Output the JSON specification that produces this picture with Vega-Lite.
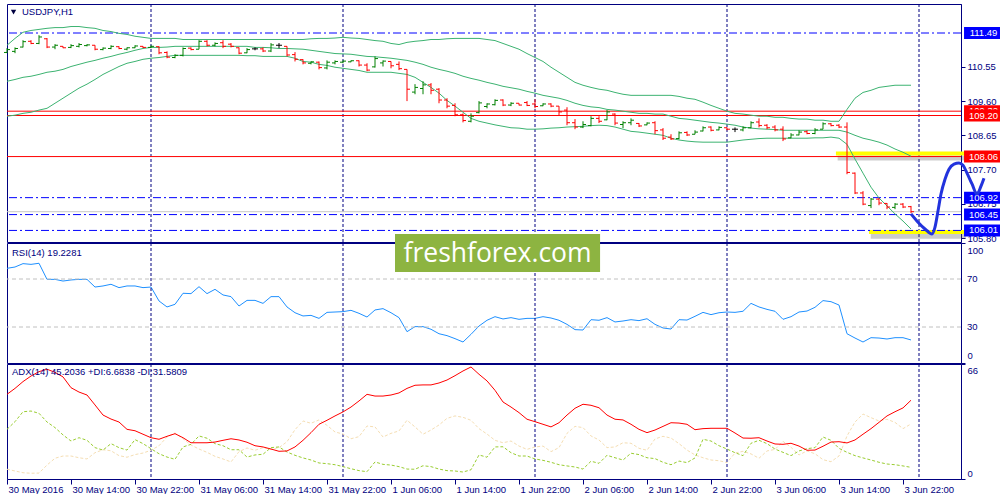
{
"$schema":"https://vega.github.io/schema/vega-lite/v6.json",
"padding":{"left":3,"top":3,"right":0,"bottom":0},
"autosize":{"type":"pad"},
"background":"white",
"bounds":"flush",
"spacing":1,
"datasets":{
"bars":[
{"t":"2016-05-30T06:00","o":110.95,"h":111.07,"l":110.93,"c":111.03,"bu":111.15,"bm":110.15,"bl":109.18,"rsi":78.9,"adx":48.6,"pdi":28.5,"mdi":5.6},
{"t":"2016-05-30T07:00","o":110.98,"h":111.09,"l":110.93,"c":111.06,"bu":111.34,"bm":110.20,"bl":109.21,"rsi":80.0,"adx":52.0,"pdi":32.9,"mdi":4.6},
{"t":"2016-05-30T08:00","o":111.10,"h":111.29,"l":111.09,"c":111.25,"bu":111.51,"bm":110.26,"bl":109.26,"rsi":82.8,"adx":55.9,"pdi":38.6,"mdi":3.6},
{"t":"2016-05-30T09:00","o":111.26,"h":111.29,"l":111.18,"c":111.20,"bu":111.56,"bm":110.29,"bl":109.29,"rsi":82.2,"adx":59.1,"pdi":39.0,"mdi":3.3},
{"t":"2016-05-30T10:00","o":111.20,"h":111.43,"l":111.18,"c":111.38,"bu":111.59,"bm":110.34,"bl":109.35,"rsi":83.1,"adx":61.6,"pdi":37.7,"mdi":3.4},
{"t":"2016-05-30T11:00","o":111.33,"h":111.35,"l":111.07,"c":111.10,"bu":111.62,"bm":110.40,"bl":109.40,"rsi":69.7,"adx":63.0,"pdi":32.7,"mdi":8.0},
{"t":"2016-05-30T12:00","o":111.10,"h":111.18,"l":111.04,"c":111.15,"bu":111.64,"bm":110.43,"bl":109.54,"rsi":69.7,"adx":61.2,"pdi":29.5,"mdi":11.9},
{"t":"2016-05-30T13:00","o":111.12,"h":111.12,"l":111.07,"c":111.08,"bu":111.64,"bm":110.48,"bl":109.68,"rsi":68.3,"adx":58.6,"pdi":25.3,"mdi":13.2},
{"t":"2016-05-30T14:00","o":111.09,"h":111.18,"l":111.07,"c":111.14,"bu":111.67,"bm":110.56,"bl":109.82,"rsi":69.2,"adx":52.4,"pdi":21.8,"mdi":13.2},
{"t":"2016-05-30T15:00","o":111.12,"h":111.21,"l":111.09,"c":111.17,"bu":111.67,"bm":110.62,"bl":109.96,"rsi":69.7,"adx":49.9,"pdi":23.7,"mdi":12.2},
{"t":"2016-05-30T16:00","o":111.14,"h":111.18,"l":111.12,"c":111.16,"bu":111.64,"bm":110.68,"bl":110.07,"rsi":69.7,"adx":48.2,"pdi":22.2,"mdi":11.5},
{"t":"2016-05-30T17:00","o":111.15,"h":111.15,"l":111.01,"c":111.04,"bu":111.62,"bm":110.73,"bl":110.20,"rsi":63.3,"adx":42.5,"pdi":18.0,"mdi":15.1},
{"t":"2016-05-30T18:00","o":111.03,"h":111.09,"l":111.01,"c":111.07,"bu":111.56,"bm":110.79,"bl":110.34,"rsi":64.2,"adx":36.7,"pdi":16.6,"mdi":16.8},
{"t":"2016-05-30T19:00","o":111.06,"h":111.15,"l":111.04,"c":111.12,"bu":111.53,"bm":110.84,"bl":110.45,"rsi":65.6,"adx":34.4,"pdi":20.3,"mdi":16.2},
{"t":"2016-05-30T20:00","o":111.11,"h":111.12,"l":111.04,"c":111.06,"bu":111.48,"bm":110.90,"bl":110.56,"rsi":62.8,"adx":32.7,"pdi":18.0,"mdi":13.4},
{"t":"2016-05-30T21:00","o":111.04,"h":111.09,"l":111.01,"c":111.08,"bu":111.45,"bm":110.95,"bl":110.65,"rsi":64.2,"adx":28.5,"pdi":16.6,"mdi":12.5},
{"t":"2016-05-30T22:00","o":111.08,"h":111.15,"l":111.07,"c":111.13,"bu":111.40,"bm":111.01,"bl":110.70,"rsi":64.2,"adx":27.7,"pdi":22.6,"mdi":14.0},
{"t":"2016-05-30T23:00","o":111.12,"h":111.12,"l":111.07,"c":111.09,"bu":111.37,"bm":111.06,"bl":110.76,"rsi":62.8,"adx":25.7,"pdi":20.3,"mdi":14.9},
{"t":"2016-05-31T00:00","o":111.09,"h":111.15,"l":111.07,"c":111.12,"bu":111.34,"bm":111.09,"bl":110.79,"rsi":63.3,"adx":23.7,"pdi":17.4,"mdi":16.5},
{"t":"2016-05-31T01:00","o":111.11,"h":111.12,"l":110.90,"c":110.94,"bu":111.34,"bm":111.09,"bl":110.81,"rsi":51.7,"adx":22.8,"pdi":14.5,"mdi":19.1},
{"t":"2016-05-31T02:00","o":110.95,"h":110.98,"l":110.79,"c":110.82,"bu":111.34,"bm":111.10,"bl":110.84,"rsi":46.7,"adx":24.5,"pdi":12.6,"mdi":24.1},
{"t":"2016-05-31T03:00","o":110.81,"h":110.90,"l":110.79,"c":110.87,"bu":111.34,"bm":111.12,"bl":110.87,"rsi":48.9,"adx":26.0,"pdi":11.3,"mdi":26.4},
{"t":"2016-05-31T04:00","o":110.87,"h":111.09,"l":110.84,"c":111.06,"bu":111.31,"bm":111.12,"bl":110.87,"rsi":58.1,"adx":23.7,"pdi":18.4,"mdi":23.1},
{"t":"2016-05-31T05:00","o":111.07,"h":111.09,"l":111.01,"c":111.03,"bu":111.31,"bm":111.12,"bl":110.87,"rsi":57.8,"adx":20.8,"pdi":19.9,"mdi":19.5},
{"t":"2016-05-31T06:00","o":111.04,"h":111.29,"l":111.04,"c":111.26,"bu":111.31,"bm":111.12,"bl":110.87,"rsi":63.6,"adx":20.8,"pdi":24.7,"mdi":17.2},
{"t":"2016-05-31T07:00","o":111.26,"h":111.29,"l":111.12,"c":111.15,"bu":111.31,"bm":111.12,"bl":110.87,"rsi":57.8,"adx":20.8,"pdi":23.4,"mdi":15.3},
{"t":"2016-05-31T08:00","o":111.15,"h":111.23,"l":111.12,"c":111.20,"bu":111.31,"bm":111.12,"bl":110.87,"rsi":61.4,"adx":21.2,"pdi":20.3,"mdi":13.0},
{"t":"2016-05-31T09:00","o":111.22,"h":111.29,"l":111.07,"c":111.12,"bu":111.31,"bm":111.12,"bl":110.87,"rsi":56.7,"adx":22.2,"pdi":19.1,"mdi":11.5},
{"t":"2016-05-31T10:00","o":111.18,"h":111.21,"l":111.09,"c":111.12,"bu":111.31,"bm":111.12,"bl":110.87,"rsi":55.3,"adx":23.1,"pdi":16.8,"mdi":9.8},
{"t":"2016-05-31T11:00","o":111.08,"h":111.09,"l":110.90,"c":110.93,"bu":111.31,"bm":111.12,"bl":110.87,"rsi":47.5,"adx":22.4,"pdi":16.8,"mdi":15.7},
{"t":"2016-05-31T12:00","o":110.94,"h":111.07,"l":110.93,"c":111.03,"bu":111.31,"bm":111.12,"bl":110.86,"rsi":52.2,"adx":21.1,"pdi":12.6,"mdi":17.8},
{"t":"2016-05-31T13:00","o":111.05,"h":111.09,"l":111.01,"c":111.05,"bu":111.31,"bm":111.09,"bl":110.86,"rsi":52.2,"adx":19.1,"pdi":13.8,"mdi":16.5},
{"t":"2016-05-31T14:00","o":111.05,"h":111.09,"l":110.96,"c":110.99,"bu":111.31,"bm":111.09,"bl":110.84,"rsi":49.7,"adx":18.4,"pdi":14.2,"mdi":18.0},
{"t":"2016-05-31T15:00","o":110.99,"h":111.21,"l":110.96,"c":111.16,"bu":111.31,"bm":111.08,"bl":110.84,"rsi":55.3,"adx":17.2,"pdi":18.0,"mdi":17.0},
{"t":"2016-05-31T16:00","o":111.15,"h":111.21,"l":111.07,"c":111.15,"bu":111.31,"bm":111.06,"bl":110.84,"rsi":55.3,"adx":15.9,"pdi":18.4,"mdi":18.0},
{"t":"2016-05-31T17:00","o":111.12,"h":111.12,"l":110.84,"c":110.88,"bu":111.31,"bm":111.06,"bl":110.84,"rsi":46.7,"adx":16.1,"pdi":15.5,"mdi":21.4},
{"t":"2016-05-31T18:00","o":110.89,"h":110.96,"l":110.70,"c":110.76,"bu":111.31,"bm":111.05,"bl":110.79,"rsi":41.9,"adx":18.4,"pdi":13.6,"mdi":28.3},
{"t":"2016-05-31T19:00","o":110.75,"h":110.76,"l":110.62,"c":110.66,"bu":111.31,"bm":111.04,"bl":110.70,"rsi":39.2,"adx":22.2,"pdi":12.1,"mdi":33.3},
{"t":"2016-05-31T20:00","o":110.65,"h":110.70,"l":110.62,"c":110.69,"bu":111.33,"bm":111.01,"bl":110.68,"rsi":39.7,"adx":26.6,"pdi":10.9,"mdi":32.0},
{"t":"2016-05-31T21:00","o":110.68,"h":110.70,"l":110.48,"c":110.53,"bu":111.34,"bm":110.98,"bl":110.62,"rsi":37.2,"adx":31.4,"pdi":9.2,"mdi":33.9},
{"t":"2016-05-31T22:00","o":110.52,"h":110.73,"l":110.48,"c":110.68,"bu":111.34,"bm":110.95,"bl":110.59,"rsi":42.2,"adx":33.7,"pdi":8.8,"mdi":30.8},
{"t":"2016-05-31T23:00","o":110.66,"h":110.73,"l":110.62,"c":110.70,"bu":111.35,"bm":110.92,"bl":110.54,"rsi":42.5,"adx":36.2,"pdi":8.2,"mdi":27.0},
{"t":"2016-06-01T00:00","o":110.68,"h":110.73,"l":110.65,"c":110.71,"bu":111.37,"bm":110.91,"bl":110.51,"rsi":42.8,"adx":38.5,"pdi":7.1,"mdi":25.8},
{"t":"2016-06-01T01:00","o":110.69,"h":110.73,"l":110.68,"c":110.72,"bu":111.35,"bm":110.90,"bl":110.48,"rsi":43.9,"adx":41.3,"pdi":5.9,"mdi":23.1},
{"t":"2016-06-01T02:00","o":110.72,"h":110.73,"l":110.56,"c":110.60,"bu":111.34,"bm":110.87,"bl":110.45,"rsi":41.4,"adx":44.8,"pdi":4.8,"mdi":24.3},
{"t":"2016-06-01T03:00","o":110.60,"h":110.65,"l":110.43,"c":110.46,"bu":111.31,"bm":110.84,"bl":110.40,"rsi":38.3,"adx":48.6,"pdi":4.2,"mdi":30.4},
{"t":"2016-06-01T04:00","o":110.55,"h":110.84,"l":110.53,"c":110.78,"bu":111.28,"bm":110.83,"bl":110.40,"rsi":44.2,"adx":47.6,"pdi":9.8,"mdi":29.9},
{"t":"2016-06-01T05:00","o":110.66,"h":110.73,"l":110.56,"c":110.71,"bu":111.26,"bm":110.81,"bl":110.40,"rsi":45.3,"adx":47.6,"pdi":8.4,"mdi":24.1},
{"t":"2016-06-01T06:00","o":110.70,"h":110.70,"l":110.51,"c":110.58,"bu":111.20,"bm":110.79,"bl":110.40,"rsi":41.9,"adx":48.2,"pdi":8.0,"mdi":26.2},
{"t":"2016-06-01T07:00","o":110.62,"h":110.70,"l":110.46,"c":110.50,"bu":111.17,"bm":110.76,"bl":110.37,"rsi":37.8,"adx":49.4,"pdi":7.1,"mdi":27.6},
{"t":"2016-06-01T08:00","o":110.48,"h":110.48,"l":109.60,"c":109.93,"bu":111.23,"bm":110.73,"bl":110.34,"rsi":26.1,"adx":52.0,"pdi":5.7,"mdi":33.7},
{"t":"2016-06-01T09:00","o":109.85,"h":110.07,"l":109.79,"c":109.98,"bu":111.26,"bm":110.68,"bl":110.26,"rsi":30.3,"adx":53.8,"pdi":5.6,"mdi":29.9},
{"t":"2016-06-01T10:00","o":109.95,"h":110.15,"l":109.79,"c":110.05,"bu":111.28,"bm":110.62,"bl":110.12,"rsi":30.3,"adx":54.0,"pdi":7.6,"mdi":25.7},
{"t":"2016-06-01T11:00","o":110.05,"h":110.10,"l":109.79,"c":109.90,"bu":111.31,"bm":110.54,"bl":109.98,"rsi":28.1,"adx":54.0,"pdi":7.1,"mdi":28.1},
{"t":"2016-06-01T12:00","o":109.93,"h":109.96,"l":109.54,"c":109.63,"bu":111.31,"bm":110.48,"bl":109.82,"rsi":24.4,"adx":55.1,"pdi":5.7,"mdi":31.0},
{"t":"2016-06-01T13:00","o":109.63,"h":109.68,"l":109.40,"c":109.46,"bu":111.33,"bm":110.43,"bl":109.62,"rsi":22.8,"adx":56.8,"pdi":4.8,"mdi":34.8},
{"t":"2016-06-01T14:00","o":109.48,"h":109.54,"l":109.18,"c":109.22,"bu":111.34,"bm":110.37,"bl":109.46,"rsi":20.3,"adx":59.3,"pdi":4.6,"mdi":36.2},
{"t":"2016-06-01T15:00","o":109.22,"h":109.26,"l":109.01,"c":109.06,"bu":111.34,"bm":110.29,"bl":109.29,"rsi":17.5,"adx":62.0,"pdi":4.0,"mdi":35.4},
{"t":"2016-06-01T16:00","o":109.04,"h":109.26,"l":109.01,"c":109.18,"bu":111.34,"bm":110.23,"bl":109.12,"rsi":23.9,"adx":64.3,"pdi":5.3,"mdi":33.7},
{"t":"2016-06-01T17:00","o":109.28,"h":109.60,"l":109.26,"c":109.55,"bu":111.34,"bm":110.18,"bl":109.04,"rsi":30.8,"adx":60.1,"pdi":13.8,"mdi":28.9},
{"t":"2016-06-01T18:00","o":109.45,"h":109.54,"l":109.40,"c":109.52,"bu":111.31,"bm":110.12,"bl":108.99,"rsi":35.6,"adx":56.3,"pdi":12.5,"mdi":25.8},
{"t":"2016-06-01T19:00","o":109.50,"h":109.65,"l":109.48,"c":109.62,"bu":111.28,"bm":110.07,"bl":108.94,"rsi":38.6,"adx":50.9,"pdi":18.4,"mdi":22.2},
{"t":"2016-06-01T20:00","o":109.63,"h":109.65,"l":109.46,"c":109.49,"bu":111.20,"bm":110.01,"bl":108.90,"rsi":36.7,"adx":44.2,"pdi":18.5,"mdi":20.8},
{"t":"2016-06-01T21:00","o":109.49,"h":109.57,"l":109.46,"c":109.54,"bu":111.12,"bm":109.97,"bl":108.86,"rsi":37.8,"adx":41.3,"pdi":15.1,"mdi":21.8},
{"t":"2016-06-01T22:00","o":109.54,"h":109.54,"l":109.48,"c":109.49,"bu":111.04,"bm":109.93,"bl":108.85,"rsi":36.4,"adx":38.1,"pdi":13.2,"mdi":18.9},
{"t":"2016-06-01T23:00","o":109.56,"h":109.60,"l":109.46,"c":109.48,"bu":110.92,"bm":109.87,"bl":108.82,"rsi":37.2,"adx":34.3,"pdi":13.2,"mdi":17.0},
{"t":"2016-06-02T00:00","o":109.52,"h":109.65,"l":109.40,"c":109.45,"bu":110.81,"bm":109.82,"bl":108.82,"rsi":37.2,"adx":32.9,"pdi":11.5,"mdi":18.4},
{"t":"2016-06-02T01:00","o":109.47,"h":109.54,"l":109.46,"c":109.52,"bu":110.70,"bm":109.76,"bl":108.83,"rsi":38.6,"adx":31.4,"pdi":10.7,"mdi":18.9},
{"t":"2016-06-02T02:00","o":109.52,"h":109.54,"l":109.43,"c":109.46,"bu":110.54,"bm":109.72,"bl":108.85,"rsi":37.5,"adx":29.9,"pdi":9.6,"mdi":15.7},
{"t":"2016-06-02T03:00","o":109.46,"h":109.46,"l":109.21,"c":109.30,"bu":110.40,"bm":109.68,"bl":108.86,"rsi":35.6,"adx":32.3,"pdi":8.2,"mdi":18.0},
{"t":"2016-06-02T04:00","o":109.35,"h":109.43,"l":108.93,"c":109.00,"bu":110.26,"bm":109.62,"bl":108.88,"rsi":32.2,"adx":36.7,"pdi":7.5,"mdi":26.2},
{"t":"2016-06-02T05:00","o":109.00,"h":109.10,"l":108.82,"c":108.88,"bu":110.12,"bm":109.54,"bl":108.89,"rsi":27.8,"adx":40.6,"pdi":6.9,"mdi":30.2},
{"t":"2016-06-02T06:00","o":108.88,"h":109.04,"l":108.85,"c":108.95,"bu":110.04,"bm":109.48,"bl":108.90,"rsi":27.5,"adx":42.9,"pdi":5.7,"mdi":29.5},
{"t":"2016-06-02T07:00","o":108.92,"h":109.18,"l":108.90,"c":109.12,"bu":109.98,"bm":109.44,"bl":108.92,"rsi":36.1,"adx":42.3,"pdi":10.2,"mdi":24.7},
{"t":"2016-06-02T08:00","o":109.12,"h":109.18,"l":108.99,"c":109.04,"bu":109.93,"bm":109.42,"bl":108.93,"rsi":35.6,"adx":40.9,"pdi":9.0,"mdi":22.4},
{"t":"2016-06-02T09:00","o":109.08,"h":109.35,"l":109.07,"c":109.30,"bu":109.90,"bm":109.37,"bl":108.92,"rsi":37.8,"adx":36.7,"pdi":13.6,"mdi":18.0},
{"t":"2016-06-02T10:00","o":109.24,"h":109.26,"l":108.93,"c":108.99,"bu":109.84,"bm":109.35,"bl":108.88,"rsi":34.2,"adx":34.3,"pdi":12.2,"mdi":18.4},
{"t":"2016-06-02T11:00","o":108.95,"h":109.04,"l":108.85,"c":109.00,"bu":109.79,"bm":109.32,"bl":108.82,"rsi":35.0,"adx":33.9,"pdi":10.9,"mdi":20.8},
{"t":"2016-06-02T12:00","o":109.00,"h":109.12,"l":108.93,"c":109.07,"bu":109.76,"bm":109.29,"bl":108.76,"rsi":36.1,"adx":31.4,"pdi":14.8,"mdi":20.5},
{"t":"2016-06-02T13:00","o":108.98,"h":108.99,"l":108.88,"c":108.91,"bu":109.76,"bm":109.26,"bl":108.74,"rsi":35.3,"adx":28.5,"pdi":14.0,"mdi":17.6},
{"t":"2016-06-02T14:00","o":108.94,"h":109.01,"l":108.93,"c":108.99,"bu":109.76,"bm":109.26,"bl":108.71,"rsi":36.9,"adx":26.6,"pdi":12.2,"mdi":16.5},
{"t":"2016-06-02T15:00","o":109.00,"h":109.04,"l":108.68,"c":108.78,"bu":109.76,"bm":109.24,"bl":108.68,"rsi":32.2,"adx":28.1,"pdi":11.7,"mdi":23.0},
{"t":"2016-06-02T16:00","o":108.80,"h":108.85,"l":108.52,"c":108.57,"bu":109.76,"bm":109.24,"bl":108.65,"rsi":29.2,"adx":30.2,"pdi":9.6,"mdi":24.5},
{"t":"2016-06-02T17:00","o":108.60,"h":108.68,"l":108.52,"c":108.55,"bu":109.76,"bm":109.18,"bl":108.57,"rsi":28.3,"adx":32.3,"pdi":8.2,"mdi":23.5},
{"t":"2016-06-02T18:00","o":108.56,"h":108.76,"l":108.54,"c":108.72,"bu":109.73,"bm":109.12,"bl":108.52,"rsi":36.1,"adx":32.1,"pdi":10.3,"mdi":20.3},
{"t":"2016-06-02T19:00","o":108.73,"h":108.76,"l":108.63,"c":108.66,"bu":109.68,"bm":109.10,"bl":108.49,"rsi":35.8,"adx":31.4,"pdi":9.4,"mdi":16.6},
{"t":"2016-06-02T20:00","o":108.68,"h":108.79,"l":108.68,"c":108.74,"bu":109.65,"bm":109.07,"bl":108.47,"rsi":38.9,"adx":28.3,"pdi":12.1,"mdi":13.8},
{"t":"2016-06-02T21:00","o":108.77,"h":108.90,"l":108.76,"c":108.86,"bu":109.57,"bm":109.04,"bl":108.46,"rsi":42.2,"adx":28.9,"pdi":22.8,"mdi":12.2},
{"t":"2016-06-02T22:00","o":108.88,"h":108.90,"l":108.76,"c":108.79,"bu":109.48,"bm":109.01,"bl":108.46,"rsi":40.3,"adx":29.1,"pdi":21.8,"mdi":10.9},
{"t":"2016-06-02T23:00","o":108.80,"h":108.90,"l":108.79,"c":108.87,"bu":109.40,"bm":108.99,"bl":108.46,"rsi":41.9,"adx":29.1,"pdi":19.1,"mdi":10.5},
{"t":"2016-06-03T00:00","o":108.86,"h":108.87,"l":108.79,"c":108.82,"bu":109.32,"bm":108.96,"bl":108.46,"rsi":42.5,"adx":29.1,"pdi":17.2,"mdi":9.4},
{"t":"2016-06-03T01:00","o":108.82,"h":108.87,"l":108.74,"c":108.82,"bu":109.26,"bm":108.93,"bl":108.49,"rsi":42.2,"adx":26.4,"pdi":15.1,"mdi":14.9},
{"t":"2016-06-03T02:00","o":108.80,"h":108.90,"l":108.76,"c":108.86,"bu":109.24,"bm":108.88,"bl":108.52,"rsi":43.1,"adx":23.5,"pdi":13.4,"mdi":15.9},
{"t":"2016-06-03T03:00","o":108.86,"h":109.04,"l":108.85,"c":109.00,"bu":109.21,"bm":108.85,"bl":108.54,"rsi":49.7,"adx":23.4,"pdi":20.5,"mdi":14.4},
{"t":"2016-06-03T04:00","o":109.02,"h":109.12,"l":108.87,"c":108.92,"bu":109.18,"bm":108.83,"bl":108.56,"rsi":46.7,"adx":23.7,"pdi":22.2,"mdi":11.9},
{"t":"2016-06-03T05:00","o":108.93,"h":108.96,"l":108.82,"c":108.86,"bu":109.18,"bm":108.82,"bl":108.57,"rsi":44.7,"adx":21.8,"pdi":20.3,"mdi":16.1},
{"t":"2016-06-03T06:00","o":108.88,"h":108.93,"l":108.76,"c":108.80,"bu":109.15,"bm":108.81,"bl":108.57,"rsi":43.1,"adx":20.1,"pdi":17.2,"mdi":17.0},
{"t":"2016-06-03T07:00","o":108.82,"h":108.90,"l":108.49,"c":108.55,"bu":109.15,"bm":108.79,"bl":108.57,"rsi":36.4,"adx":19.9,"pdi":15.3,"mdi":21.6},
{"t":"2016-06-03T08:00","o":108.58,"h":108.71,"l":108.57,"c":108.66,"bu":109.12,"bm":108.79,"bl":108.57,"rsi":38.6,"adx":20.5,"pdi":13.4,"mdi":18.2},
{"t":"2016-06-03T09:00","o":108.66,"h":108.79,"l":108.65,"c":108.74,"bu":109.10,"bm":108.79,"bl":108.57,"rsi":42.5,"adx":18.9,"pdi":16.1,"mdi":13.8},
{"t":"2016-06-03T10:00","o":108.75,"h":108.79,"l":108.68,"c":108.70,"bu":109.10,"bm":108.79,"bl":108.57,"rsi":43.3,"adx":16.5,"pdi":17.4,"mdi":16.1},
{"t":"2016-06-03T11:00","o":108.70,"h":108.85,"l":108.68,"c":108.80,"bu":109.07,"bm":108.79,"bl":108.58,"rsi":46.4,"adx":16.6,"pdi":18.0,"mdi":14.5},
{"t":"2016-06-03T12:00","o":108.82,"h":109.01,"l":108.82,"c":108.97,"bu":109.07,"bm":108.79,"bl":108.58,"rsi":52.0,"adx":18.8,"pdi":24.1,"mdi":11.1},
{"t":"2016-06-03T13:00","o":108.97,"h":108.99,"l":108.90,"c":108.92,"bu":109.04,"bm":108.79,"bl":108.60,"rsi":51.1,"adx":21.2,"pdi":22.2,"mdi":9.9},
{"t":"2016-06-03T14:00","o":108.93,"h":108.96,"l":108.85,"c":108.88,"bu":109.04,"bm":108.79,"bl":108.57,"rsi":48.3,"adx":21.4,"pdi":17.6,"mdi":13.2},
{"t":"2016-06-03T15:00","o":108.88,"h":109.01,"l":107.57,"c":107.62,"bu":109.37,"bm":108.74,"bl":108.40,"rsi":24.4,"adx":20.7,"pdi":15.3,"mdi":24.7},
{"t":"2016-06-03T16:00","o":107.60,"h":107.62,"l":107.02,"c":107.05,"bu":109.68,"bm":108.65,"bl":107.99,"rsi":20.8,"adx":22.4,"pdi":13.4,"mdi":32.7},
{"t":"2016-06-03T17:00","o":107.05,"h":107.10,"l":106.71,"c":106.74,"bu":109.84,"bm":108.57,"bl":107.60,"rsi":17.5,"adx":25.7,"pdi":12.1,"mdi":37.3},
{"t":"2016-06-03T18:00","o":106.70,"h":106.91,"l":106.63,"c":106.88,"bu":109.90,"bm":108.52,"bl":107.21,"rsi":21.1,"adx":28.9,"pdi":10.9,"mdi":35.2},
{"t":"2016-06-03T19:00","o":106.88,"h":106.91,"l":106.71,"c":106.77,"bu":109.98,"bm":108.46,"bl":106.91,"rsi":20.8,"adx":32.5,"pdi":9.6,"mdi":33.3},
{"t":"2016-06-03T20:00","o":106.76,"h":106.77,"l":106.60,"c":106.66,"bu":110.01,"bm":108.38,"bl":106.69,"rsi":20.0,"adx":36.2,"pdi":8.6,"mdi":34.3},
{"t":"2016-06-03T21:00","o":106.65,"h":106.77,"l":106.60,"c":106.74,"bu":110.04,"bm":108.27,"bl":106.47,"rsi":21.1,"adx":38.6,"pdi":8.2,"mdi":32.5},
{"t":"2016-06-03T22:00","o":106.74,"h":106.77,"l":106.63,"c":106.66,"bu":110.04,"bm":108.18,"bl":106.27,"rsi":21.1,"adx":40.8,"pdi":7.5,"mdi":28.9},
{"t":"2016-06-03T23:00","o":106.67,"h":106.69,"l":106.49,"c":106.53,"bu":110.04,"bm":108.07,"bl":106.05,"rsi":19.2,"adx":45.2,"pdi":6.7,"mdi":31.6}
],
"days":[{"t":"2016-05-31T00:00"},{"t":"2016-06-01T00:00"},{"t":"2016-06-02T00:00"},{"t":"2016-06-03T00:00"},{"t":"2016-06-04T00:00"}],
"redLevels":[{"p":109.32},{"p":109.20},{"p":108.06}],
"blueLevels":[{"p":111.49},{"p":106.92},{"p":106.45},{"p":106.01}],
"bid":[{"p":106.53}],
"zones":[{"t1":"2016-06-03T13:37","t2":"2016-06-04T05:52","p1":108.09,"p2":108.20},{"t1":"2016-06-03T17:45","t2":"2016-06-04T05:52","p1":105.91,"p2":106.02}],
"shadows":[{"t1":"2016-06-03T13:50","t2":"2016-06-04T05:52","p1":107.95,"p2":108.09},{"t1":"2016-06-03T17:58","t2":"2016-06-04T05:52","p1":105.78,"p2":105.91}],
"rsiLevels":[{"v":30},{"v":70}],
"sketch":[
{"t":"2016-06-03T23:00","p":106.47},{"t":"2016-06-03T23:52:30","p":106.24},{"t":"2016-06-04T00:45","p":106.05},{"t":"2016-06-04T01:37:30","p":105.91},{"t":"2016-06-04T02:00","p":106.10},{"t":"2016-06-04T02:22:30","p":106.55},{"t":"2016-06-04T02:45","p":107.02},{"t":"2016-06-04T03:15","p":107.43},{"t":"2016-06-04T03:45","p":107.71},{"t":"2016-06-04T04:22:30","p":107.85},{"t":"2016-06-04T05:00","p":107.88},{"t":"2016-06-04T05:30","p":107.82},{"t":"2016-06-04T06:00","p":107.60},{"t":"2016-06-04T06:37:30","p":107.30},{"t":"2016-06-04T07:15","p":107.02},{"t":"2016-06-04T07:45","p":107.24},{"t":"2016-06-04T08:07:30","p":107.46}
]
},
"vconcat":[
{
"width":954,"height":238,
"layer":[
{"data":{"name":"days"},"mark":{"type":"rule","color":"#000080","strokeDash":[3,2],"strokeWidth":1},
 "encoding":{"x":{"field":"t","type":"temporal","axis":null,"scale":{"domain":[{"year":2016,"month":5,"date":30,"hours":6},{"year":2016,"month":6,"date":4,"hours":5,"minutes":15}],"nice":false}}}},
{"data":{"name":"shadows"},"mark":{"type":"rect","color":"#555555","opacity":0.3},
 "encoding":{"x":{"field":"t1","type":"temporal","axis":null},"x2":{"field":"t2"},
  "y":{"field":"p1","type":"quantitative","scale":{"domain":[105.689,112.295],"nice":false,"zero":false},
   "axis":{"orient":"right","values":[105.8,106.75,107.7,108.65,109.6,110.55],"format":".2f","tickSize":4,"labelPadding":2,"grid":false,"title":null,"labelFlush":false,"labelOverlap":false}},
  "y2":{"field":"p2"}}},
{"data":{"name":"zones"},"mark":{"type":"rect","color":"#ffff00"},
 "encoding":{"x":{"field":"t1","type":"temporal","axis":null},"x2":{"field":"t2"},"y":{"field":"p1","type":"quantitative"},"y2":{"field":"p2"}}},
{"data":{"name":"bid"},"mark":{"type":"rule","color":"#c8c8c8","strokeWidth":1},"encoding":{"y":{"field":"p","type":"quantitative"}}},
{"data":{"name":"redLevels"},"mark":{"type":"rule","color":"#ff0000","strokeWidth":1},"encoding":{"y":{"field":"p","type":"quantitative"}}},
{"data":{"name":"blueLevels"},"mark":{"type":"rule","color":"#0000ff","strokeWidth":1,"strokeDash":[8,3,2,3]},"encoding":{"y":{"field":"p","type":"quantitative"}}},
{"data":{"name":"bars"},"mark":{"type":"line","color":"#3cb371","strokeWidth":1},"encoding":{"x":{"field":"t","type":"temporal","axis":null},"y":{"field":"bu","type":"quantitative"}}},
{"data":{"name":"bars"},"mark":{"type":"line","color":"#3cb371","strokeWidth":1},"encoding":{"x":{"field":"t","type":"temporal","axis":null},"y":{"field":"bm","type":"quantitative"}}},
{"data":{"name":"bars"},"mark":{"type":"line","color":"#3cb371","strokeWidth":1},"encoding":{"x":{"field":"t","type":"temporal","axis":null},"y":{"field":"bl","type":"quantitative"}}},
{"data":{"name":"bars"},"mark":{"type":"rule","strokeWidth":1},"encoding":{"x":{"field":"t","type":"temporal","axis":null},"y":{"field":"l","type":"quantitative"},"y2":{"field":"h"},
 "color":{"condition":[{"test":"datum.c > datum.o","value":"#008000"},{"test":"datum.c < datum.o","value":"#ff0000"}],"value":"#000000"}}},
{"data":{"name":"bars"},"mark":{"type":"tick","orient":"horizontal","size":3,"thickness":1,"xOffset":-1.5,"opacity":1},"encoding":{"x":{"field":"t","type":"temporal","axis":null},"y":{"field":"o","type":"quantitative"},
 "color":{"condition":[{"test":"datum.c > datum.o","value":"#008000"},{"test":"datum.c < datum.o","value":"#ff0000"}],"value":"#000000"}}},
{"data":{"name":"bars"},"mark":{"type":"tick","orient":"horizontal","size":3,"thickness":1,"xOffset":1.5,"opacity":1},"encoding":{"x":{"field":"t","type":"temporal","axis":null},"y":{"field":"c","type":"quantitative"},
 "color":{"condition":[{"test":"datum.c > datum.o","value":"#008000"},{"test":"datum.c < datum.o","value":"#ff0000"}],"value":"#000000"}}},
{"data":{"name":"redLevels"},"transform":[{"filter":"datum.p > 109.3"}],"mark":{"type":"point","shape":"M-1,-0.3077H1V0.3077H-1Z","filled":true,"size":1521,"color":"#ff0000","opacity":1,"strokeWidth":0},
 "encoding":{"x":{"datum":{"year":2016,"month":6,"date":4,"hours":8,"minutes":4},"type":"temporal","axis":null},"y":{"field":"p","type":"quantitative"}}},
{"data":{"name":"redLevels"},"transform":[{"filter":"datum.p > 109.3"}],"mark":{"type":"text","color":"#ffffff","fontSize":9.5,"align":"center","baseline":"middle"},
 "encoding":{"x":{"datum":{"year":2016,"month":6,"date":4,"hours":8,"minutes":4},"type":"temporal","axis":null},"y":{"field":"p","type":"quantitative"},"text":{"field":"p","type":"quantitative","format":".2f"}}},
{"data":{"name":"redLevels"},"transform":[{"filter":"datum.p < 109.3"}],"mark":{"type":"point","shape":"M-1,-0.3077H1V0.3077H-1Z","filled":true,"size":1521,"color":"#ff0000","opacity":1,"strokeWidth":0},
 "encoding":{"x":{"datum":{"year":2016,"month":6,"date":4,"hours":8,"minutes":4},"type":"temporal","axis":null},"y":{"field":"p","type":"quantitative"}}},
{"data":{"name":"redLevels"},"transform":[{"filter":"datum.p < 109.3"}],"mark":{"type":"text","color":"#ffffff","fontSize":9.5,"align":"center","baseline":"middle"},
 "encoding":{"x":{"datum":{"year":2016,"month":6,"date":4,"hours":8,"minutes":4},"type":"temporal","axis":null},"y":{"field":"p","type":"quantitative"},"text":{"field":"p","type":"quantitative","format":".2f"}}},
{"data":{"name":"blueLevels"},"mark":{"type":"point","shape":"M-1,-0.3077H1V0.3077H-1Z","filled":true,"size":1521,"color":"#0000ff","opacity":1,"strokeWidth":0},
 "encoding":{"x":{"datum":{"year":2016,"month":6,"date":4,"hours":8,"minutes":4},"type":"temporal","axis":null},"y":{"field":"p","type":"quantitative"}}},
{"data":{"name":"blueLevels"},"mark":{"type":"text","color":"#ffffff","fontSize":9.5,"align":"center","baseline":"middle"},
 "encoding":{"x":{"datum":{"year":2016,"month":6,"date":4,"hours":8,"minutes":4},"type":"temporal","axis":null},"y":{"field":"p","type":"quantitative"},"text":{"field":"p","type":"quantitative","format":".2f"}}},
{"data":{"name":"sketch"},"mark":{"type":"line","color":"#2233dd","strokeWidth":3,"interpolate":"monotone"},"encoding":{"x":{"field":"t","type":"temporal","axis":null},"y":{"field":"p","type":"quantitative"}}},
{"data":{"values":[{}]},"mark":{"type":"point","shape":"triangle-down","filled":true,"size":28,"color":"#000040","opacity":1},
 "encoding":{"x":{"datum":{"year":2016,"month":5,"date":30,"hours":6,"minutes":49},"type":"temporal","axis":null},"y":{"datum":112.07,"type":"quantitative"}}},
{"data":{"values":[{}]},"mark":{"type":"text","text":"USDJPY,H1","color":"#000080","fontSize":9.5,"align":"left","baseline":"middle","dx":15,"dy":8},
 "encoding":{"x":{"datum":{"year":2016,"month":5,"date":30,"hours":6},"type":"temporal","axis":null},"y":{"datum":112.295,"type":"quantitative"}}}
]
},
{
"width":954,"height":120,
"layer":[
{"data":{"name":"bars"},"mark":{"type":"line","color":"#1e90ff","strokeWidth":1},
 "encoding":{"x":{"field":"t","type":"temporal","axis":null,"scale":{"domain":[{"year":2016,"month":5,"date":30,"hours":6},{"year":2016,"month":6,"date":4,"hours":5,"minutes":15}],"nice":false}},
  "y":{"field":"rsi","type":"quantitative","scale":{"domain":[0,100],"nice":false,"zero":false},
   "axis":{"orient":"right","values":[0,30,70,100],"format":"d","tickSize":4,"labelPadding":2,"grid":false,"title":null,"labelFlush":false,"labelOverlap":false,
    "labelBaseline":{"condition":[{"test":"datum.value >= 100","value":"top"},{"test":"datum.value <= 0","value":"bottom"}],"value":"middle"},
    "labelOffset":{"condition":[{"test":"datum.value >= 100","value":2},{"test":"datum.value <= 0","value":-3}],"value":0}}}}},
{"data":{"name":"days"},"mark":{"type":"rule","color":"#000080","strokeDash":[3,2],"strokeWidth":1},
 "encoding":{"x":{"field":"t","type":"temporal","axis":null}}},
{"data":{"name":"rsiLevels"},"mark":{"type":"rule","color":"#c0c0c0","strokeDash":[4,3],"strokeWidth":1},
 "encoding":{"y":{"field":"v","type":"quantitative"}}},
{"data":{"name":"rsiLevels"},"mark":{"type":"text","color":"#000080","fontSize":9.5,"align":"left","baseline":"middle"},
 "encoding":{"x":{"datum":{"year":2016,"month":6,"date":4,"hours":6},"type":"temporal","axis":null},"y":{"field":"v","type":"quantitative"},"text":{"field":"v","type":"quantitative","format":"d"}}},
{"data":{"values":[{}]},"mark":{"type":"text","text":"RSI(14) 19.2281","color":"#000080","fontSize":9.5,"align":"left","baseline":"middle","dx":5,"dy":10},
 "encoding":{"x":{"datum":{"year":2016,"month":5,"date":30,"hours":6},"type":"temporal","axis":null},"y":{"datum":100,"type":"quantitative"}}},
{"data":{"values":[{}]},"mark":{"type":"rect","color":"#8db441"},
 "encoding":{"x":{"datum":{"year":2016,"month":6,"date":1,"hours":6,"minutes":30},"type":"temporal","axis":null},"x2":{"datum":{"year":2016,"month":6,"date":2,"hours":8,"minutes":8}},
  "y":{"datum":107.5,"type":"quantitative"},"y2":{"datum":75.8}}},
{"data":{"values":[{}]},"mark":{"type":"text","text":"freshforex.com","font":"Open Sans","fontSize":26.5,"color":"#ffffff","align":"center","baseline":"alphabetic"},
 "encoding":{"x":{"datum":{"year":2016,"month":6,"date":1,"hours":19,"minutes":19},"type":"temporal","axis":null},"y":{"datum":84.4,"type":"quantitative"}}}
]
},
{
"width":954,"height":115,
"layer":[
{"data":{"name":"days"},"mark":{"type":"rule","color":"#000080","strokeDash":[3,2],"strokeWidth":1},
 "encoding":{"x":{"field":"t","type":"temporal","scale":{"domain":[{"year":2016,"month":5,"date":30,"hours":6},{"year":2016,"month":6,"date":4,"hours":5,"minutes":15}],"nice":false},
  "axis":{"values":[
   {"year":2016,"month":5,"date":30,"hours":6},{"year":2016,"month":5,"date":30,"hours":14},{"year":2016,"month":5,"date":30,"hours":22},
   {"year":2016,"month":5,"date":31,"hours":6},{"year":2016,"month":5,"date":31,"hours":14},{"year":2016,"month":5,"date":31,"hours":22},
   {"year":2016,"month":6,"date":1,"hours":6},{"year":2016,"month":6,"date":1,"hours":14},{"year":2016,"month":6,"date":1,"hours":22},
   {"year":2016,"month":6,"date":2,"hours":6},{"year":2016,"month":6,"date":2,"hours":14},{"year":2016,"month":6,"date":2,"hours":22},
   {"year":2016,"month":6,"date":3,"hours":6},{"year":2016,"month":6,"date":3,"hours":14},{"year":2016,"month":6,"date":3,"hours":22}],
   "labelExpr":"timeFormat(datum.value, '%d%H') == '3006' ? '30 May 2016' : timeFormat(datum.value, '%-d %b %H:%M')",
   "tickSize":5,"labelPadding":0,"labelAlign":"left","labelBaseline":"top","labelFlush":false,"labelOverlap":false,"labelOffset":1,"domain":false,"grid":false,"title":null}}}},
{"data":{"name":"bars"},"mark":{"type":"line","color":"#f5deb3","strokeWidth":1,"strokeDash":[3,2]},
 "encoding":{"x":{"field":"t","type":"temporal"},"y":{"field":"mdi","type":"quantitative","scale":{"domain":[0,66],"nice":false,"zero":false},
  "axis":{"orient":"right","values":[0,66],"format":"d","tickSize":4,"labelPadding":2,"grid":false,"title":null,"labelFlush":false,"labelOverlap":false,
   "labelBaseline":{"condition":[{"test":"datum.value >= 66","value":"top"},{"test":"datum.value <= 0","value":"bottom"}],"value":"middle"},
   "labelOffset":{"condition":[{"test":"datum.value >= 66","value":1},{"test":"datum.value <= 0","value":-1}],"value":0}}}}},
{"data":{"name":"bars"},"mark":{"type":"line","color":"#9acd32","strokeWidth":1,"strokeDash":[3,2]},"encoding":{"x":{"field":"t","type":"temporal"},"y":{"field":"pdi","type":"quantitative"}}},
{"data":{"name":"bars"},"mark":{"type":"line","color":"#ff0000","strokeWidth":1},"encoding":{"x":{"field":"t","type":"temporal"},"y":{"field":"adx","type":"quantitative"}}},
{"data":{"values":[{}]},"mark":{"type":"text","text":"ADX(14) 45.2036 +DI:6.6838 -DI:31.5809","color":"#000080","fontSize":9.5,"align":"left","baseline":"middle","dx":5,"dy":8},
 "encoding":{"x":{"datum":{"year":2016,"month":5,"date":30,"hours":6},"type":"temporal"},"y":{"datum":66,"type":"quantitative"}}}
]
}
],
"config":{
 "font":"Liberation Sans",
 "view":{"stroke":"#000080","strokeWidth":1},
 "axis":{"grid":false,"labelFont":"Liberation Sans","labelFontSize":9.5,"labelColor":"#000080","tickColor":"#000080","domainColor":"#000080"},
 "text":{"font":"Liberation Sans"}
}
}
